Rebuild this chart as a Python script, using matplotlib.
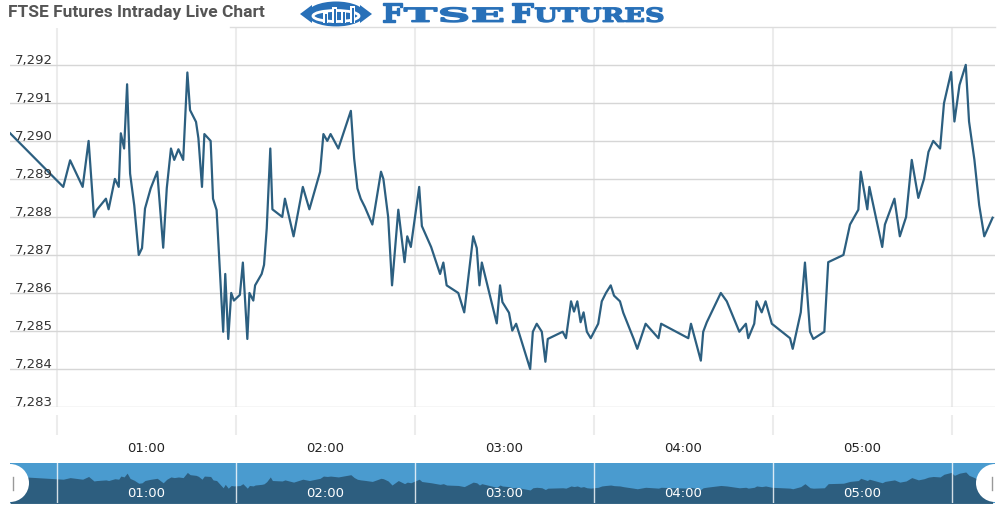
import matplotlib
matplotlib.use("Agg")
import matplotlib.pyplot as plt
from matplotlib.font_manager import FontProperties
from matplotlib.patches import Ellipse, PathPatch, Rectangle, Polygon
from matplotlib.textpath import TextPath
from matplotlib.transforms import Affine2D, IdentityTransform, blended_transform_factory
from matplotlib.lines import Line2D

# minutes after midnight, FTSE futures price
times = [14.3, 32.1, 34.4, 38.6, 40.6, 42.4, 43.3, 46.4, 47.3, 49.4, 50.7, 51.4, 52.5, 53.5,
         54.5, 55.9, 57.4, 58.5, 59.5, 61.4, 63.6, 65.6, 66.8, 68.2, 69.3, 70.7, 72.3, 73.7,
         74.6, 76.6, 77.4, 78.6, 79.4, 81.5, 82.3, 83.5, 85.7, 86.4, 87.4, 88.4, 89.3, 91.3,
         92.3, 93.8, 94.5, 95.8, 96.4, 98.6, 99.4, 100.3, 101.5, 102.2, 105.5, 106.4, 109.3,
         112.4, 114.6, 118.2, 119.3, 120.6, 121.7, 124.3, 126.0, 128.5, 129.6, 130.7, 131.8,
         133.2, 135.7, 138.6, 139.4, 141.0, 142.3, 144.4, 146.5, 147.4, 148.6, 151.4, 152.3,
         155.4, 158.4, 159.5, 160.6, 164.5, 166.5, 169.5, 170.7, 171.6, 172.4, 174.9, 177.4,
         178.5, 179.3, 181.5, 182.6, 183.9, 188.6, 189.5, 190.8, 192.5, 193.7, 194.5, 199.5,
         200.6, 202.3, 203.3, 204.4, 205.5, 206.5, 207.6, 208.9, 211.4, 212.6, 214.0, 215.6,
         216.7, 218.7, 219.8, 223.3, 224.5, 227.3, 231.6, 232.5, 241.6, 242.5, 245.8, 246.6,
         247.8, 252.5, 254.5, 258.7, 260.9, 261.7, 263.7, 264.5, 266.2, 267.5, 269.6, 275.7,
         276.6, 279.3, 280.7, 282.4, 283.5, 287.2, 288.5, 293.6, 295.8, 298.6, 299.4, 301.6,
         302.3, 306.6, 307.5, 310.7, 312.5, 314.6, 316.5, 318.7, 320.6, 322.1, 323.7, 326.0,
         327.3, 329.7, 330.8, 332.5, 334.6, 335.7, 337.5, 339.1, 340.8, 343.6]
prices = [7290.20, 7288.79, 7289.49, 7288.79, 7290.00, 7288.00, 7288.18, 7288.48, 7288.20,
          7289.00, 7288.79, 7290.20, 7289.80, 7291.49, 7289.14, 7288.30, 7287.00, 7287.18,
          7288.22, 7288.75, 7289.19, 7287.19, 7288.76, 7289.80, 7289.50, 7289.78, 7289.50,
          7291.80, 7290.81, 7290.50, 7290.07, 7288.79, 7290.18, 7290.00, 7288.48, 7288.18,
          7284.98, 7286.50, 7284.79, 7286.00, 7285.80, 7285.95, 7286.80, 7284.79, 7286.00,
          7285.80, 7286.20, 7286.50, 7286.74, 7287.70, 7289.80, 7288.20, 7288.00, 7288.48,
          7287.49, 7288.79, 7288.20, 7289.19, 7290.18, 7290.00, 7290.18, 7289.80, 7290.20,
          7290.79, 7289.54, 7288.75, 7288.48, 7288.26, 7287.80, 7289.19, 7289.00, 7288.00,
          7286.20, 7288.19, 7286.81, 7287.49, 7287.21, 7288.79, 7287.76, 7287.21, 7286.50,
          7286.80, 7286.20, 7286.00, 7285.49, 7287.49, 7287.18, 7286.20, 7286.80, 7286.00,
          7285.20, 7286.20, 7285.76, 7285.48, 7285.01, 7285.19, 7284.00, 7284.98, 7285.19,
          7284.98, 7284.19, 7284.79, 7284.98, 7284.81, 7285.78, 7285.51, 7285.78, 7285.23,
          7285.49, 7284.98, 7284.81, 7285.19, 7285.78, 7286.00, 7286.20, 7285.93, 7285.78,
          7285.48, 7284.79, 7284.53, 7285.19, 7284.81, 7285.19, 7284.81, 7285.19, 7284.22,
          7284.98, 7285.23, 7286.00, 7285.78, 7284.98, 7285.19, 7284.81, 7285.19, 7285.78,
          7285.49, 7285.78, 7285.19, 7284.81, 7284.53, 7285.49, 7286.80, 7284.98, 7284.79,
          7284.98, 7286.81, 7287.00, 7287.80, 7288.19, 7289.19, 7288.20, 7288.79, 7287.21,
          7287.80, 7288.48, 7287.49, 7288.00, 7289.50, 7288.50, 7289.00, 7289.71, 7290.00,
          7289.80, 7290.99, 7291.81, 7290.51, 7291.47, 7292.00, 7290.51, 7289.50, 7288.31,
          7287.49, 7287.98]

y_ticks = [7283, 7284, 7285, 7286, 7287, 7288, 7289, 7290, 7291, 7292]
grid_minutes = [30, 90, 150, 210, 270, 330]
hour_minutes = [60, 120, 180, 240, 300]
hour_labels = ["01:00", "02:00", "03:00", "04:00", "05:00"]

W, H = 1000, 509
LINE_COLOR = "#2c5f80"
NAV_BG = "#4a9bcf"
NAV_FILL = "#2d5e7f"
LOGO_BLUE = "#2870b8"
XLIM = (14.25, 344.4)


def box(top, bottom, left=10, right=995):
    return [left / W, 1 - bottom / H, (right - left) / W, (bottom - top) / H]


fig = plt.figure(figsize=(W / 100, H / 100), dpi=100)

# main chart
ax = fig.add_axes(box(28, 407))
ax.plot(times, prices, color=LINE_COLOR, linewidth=1.6, solid_joinstyle="round", zorder=3)
ax.set_xlim(*XLIM)
ax.set_ylim(7283, 7292.97)
for v in y_ticks:
    ax.axhline(v, color="#d6d6d6", linewidth=1, zorder=1)
for m in grid_minutes:
    ax.axvline(m, color="#ececec", linewidth=1.5, zorder=0)
for s in ax.spines.values():
    s.set_visible(False)
ax.set_xticks([])
ax.set_yticks([])
ytr = blended_transform_factory(ax.transAxes, ax.transData)
for v in y_ticks:
    ax.text(0.005, v + 0.03, f"{v:,}", transform=ytr, ha="left", va="baseline",
            fontsize=9.5, color="#333333", family="DejaVu Sans", zorder=4)

# tick stubs and hour labels under the plot
axt = fig.add_axes(box(415, 435))
axt.set_xlim(*XLIM)
axt.set_ylim(0, 1)
axt.axis("off")
for m in grid_minutes:
    axt.axvline(m, color="#ececec", linewidth=1.5)
xtr = blended_transform_factory(axt.transData, axt.transAxes)
for m, lab in zip(hour_minutes, hour_labels):
    axt.text(m, -0.7, lab, transform=xtr, ha="center", va="center",
             fontsize=9.5, color="#222222", family="DejaVu Sans")

# navigator
axn = fig.add_axes(box(463, 503))
axn.set_facecolor(NAV_BG)
axn.fill_between(times, prices, 7278.0, color=NAV_FILL, linewidth=0)
axn.set_xlim(*XLIM)
axn.set_ylim(7278.2, 7296.0)
for s in axn.spines.values():
    s.set_visible(False)
axn.set_xticks([])
axn.set_yticks([])
for m in grid_minutes:
    axn.axvline(m, color="white", linewidth=1, alpha=0.8)
ntr = blended_transform_factory(axn.transData, axn.transAxes)
for m, lab in zip(hour_minutes, hour_labels):
    axn.text(m, 0.23, lab, transform=ntr, ha="center", va="center",
             fontsize=9.5, color="white", family="DejaVu Sans")
for cx in (10, 995):
    handle = Ellipse((cx, H - 483), 38, 38, transform=IdentityTransform(),
                     facecolor="white", edgecolor="none", zorder=5)
    axn.add_patch(handle)
    handle.set_clip_path(axn.patch)
    gx = 13 if cx < 500 else 992
    axn.add_line(Line2D([gx, gx], [H - 477, H - 490], transform=IdentityTransform(),
                        color="#999999", linewidth=1, zorder=6))

# header
fig.text(8 / W, 1 - 12 / H, "FTSE Futures Intraday Live Chart", ha="left", va="center",
         fontsize=12.5, fontweight="bold", color="#555555", family="Roboto")
fig.add_artist(Line2D([230 / W, 995 / W], [1 - 27 / H, 1 - 27 / H], color="#dddddd", linewidth=1))

# logo: globe
fig.add_artist(Polygon([(300, H - 14), (312, H - 5), (312, H - 23)], closed=True,
                       transform=IdentityTransform(), facecolor=LOGO_BLUE))
fig.add_artist(Polygon([(372, H - 14), (360, H - 5), (360, H - 23)], closed=True,
                       transform=IdentityTransform(), facecolor=LOGO_BLUE))
fig.add_artist(Ellipse((336, H - 14), 58, 25, transform=IdentityTransform(), facecolor=LOGO_BLUE))
fig.add_artist(Ellipse((336, H - 16), 46, 11, transform=IdentityTransform(), facecolor="none",
                       edgecolor="white", linewidth=2))
for bx, bh in [(323, 11), (332, 16), (341, 13), (350, 17)]:
    fig.add_artist(Rectangle((bx, H - 23), 5, bh, transform=IdentityTransform(),
                             facecolor="white", edgecolor="none"))
    fig.add_artist(Rectangle((bx + 1.5, H - 23), 2, bh - 1.5, transform=IdentityTransform(),
                             facecolor=LOGO_BLUE, edgecolor="none"))


# logo: text pieces stretched into their boxes
def fit_text(s, x0, x1, top, base):
    fp = FontProperties(family="DejaVu Serif", weight="bold")
    p = TextPath((0, 0), s, size=100, prop=fp)
    ext = p.get_extents()
    tr = (Affine2D().translate(-ext.x0, -ext.y0)
          .scale((x1 - x0) / ext.width, (base - top) / ext.height)
          .translate(x0, H - base))
    fig.add_artist(PathPatch(p, transform=tr, facecolor=LOGO_BLUE, edgecolor=LOGO_BLUE,
                             linewidth=1.0))


fit_text("F", 383, 402, 3, 22)
fit_text("TSE", 404, 503, 7.5, 22)
fit_text("F", 512, 533, 3, 22)
fit_text("UTURES", 535, 663, 7.5, 22)

fig.savefig("out.png", dpi=100, facecolor="white")
